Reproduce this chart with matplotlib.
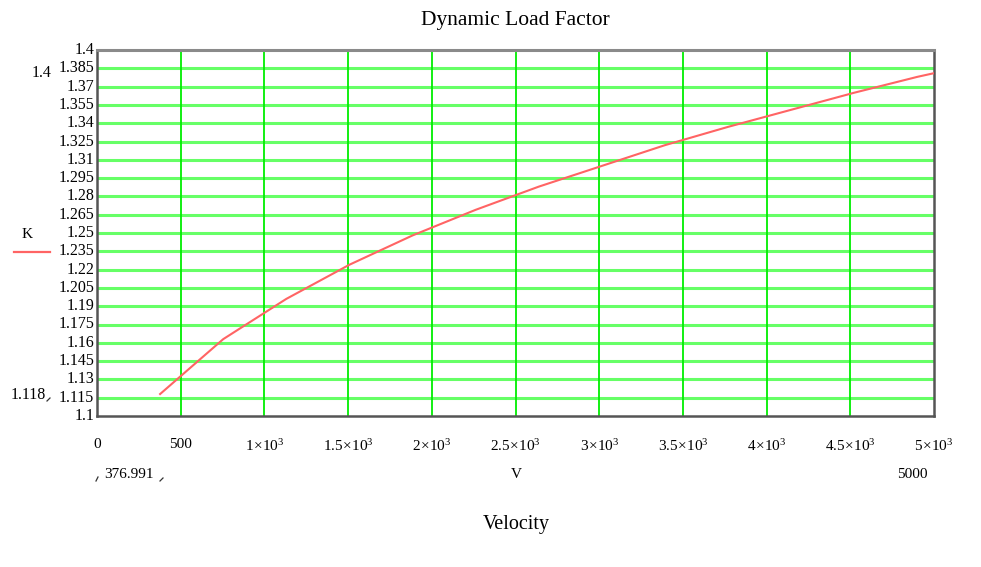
import numpy as np
import matplotlib
matplotlib.use("Agg")
import matplotlib.pyplot as plt
from matplotlib.lines import Line2D

plt.rcParams['font.family'] = ['Liberation Serif', 'DejaVu Serif']
plt.rcParams['mathtext.fontset'] = 'custom'
plt.rcParams['mathtext.rm'] = 'Liberation Serif'
plt.rcParams['mathtext.it'] = 'Liberation Serif'

# velocity samples and dynamic load factor
velocity = [376.991, 753.982, 1130.973, 1507.964, 1884.955, 2261.946, 2638.937,
            3015.928, 3392.919, 3769.910, 4146.901, 4523.892, 4900.883, 5000.0]
k_factor = [1.118, 1.163, 1.196, 1.224, 1.248, 1.269, 1.288,
            1.305, 1.322, 1.337, 1.351, 1.365, 1.378, 1.381]

x_ticks = [0, 500, 1000, 1500, 2000, 2500, 3000, 3500, 4000, 4500, 5000]
x_tick_labels = ['0', '500', r'$1\!\times\!10^3$', r'$1.5\!\times\!10^3$', r'$2\!\times\!10^3$',
                 r'$2.5\!\times\!10^3$', r'$3\!\times\!10^3$', r'$3.5\!\times\!10^3$',
                 r'$4\!\times\!10^3$', r'$4.5\!\times\!10^3$', r'$5\!\times\!10^3$']
y_ticks = [1.1, 1.115, 1.13, 1.145, 1.16, 1.175, 1.19, 1.205, 1.22, 1.235, 1.25,
           1.265, 1.28, 1.295, 1.31, 1.325, 1.34, 1.355, 1.37, 1.385, 1.4]

W, H = 981, 567
fig = plt.figure(figsize=(W / 100, H / 100), dpi=100)
ax = fig.add_axes([97 / W, 1 - 416 / H, (934 - 97) / W, (416 - 50) / H])

ax.set_xlim(0, 5000)
ax.set_ylim(1.1, 1.4)

# grid lines
for y in y_ticks[1:-1]:
    ax.axhline(y, color='#66ff66', lw=2.2, zorder=1)
for x in x_ticks[1:-1]:
    ax.axvline(x, color='#00ee00', lw=1.3, zorder=1)

ax.plot(velocity, k_factor, color='#ff6464', lw=1.5, zorder=3)

ax.set_xticks(x_ticks)
ax.set_xticklabels(x_tick_labels, fontsize=11)
ax.set_yticks(y_ticks)
ax.set_yticklabels(['{:g}'.format(v) for v in y_ticks], fontsize=11.5)
ax.tick_params(axis='x', length=0, pad=16)
ax.tick_params(axis='y', length=0, pad=2)
for lbl in ax.get_yticklabels():
    lbl.set_verticalalignment('center')

for side in ['left', 'bottom', 'right']:
    ax.spines[side].set_color('#555555')
    ax.spines[side].set_linewidth(1.8)
ax.spines['top'].set_color('#8a8a8a')
ax.spines['top'].set_linewidth(2.2)

def px(x, y):
    return x / W, 1 - y / H

# titles and labels
fig.text(*px(515, 20), 'Dynamic Load Factor', ha='center', va='center', fontsize=15.5)
fig.text(*px(516, 524), 'Velocity', ha='center', va='center', fontsize=14.5)
fig.text(*px(516, 474), 'V', ha='center', va='center', fontsize=11)
fig.text(*px(912, 474), '5000', ha='center', va='center', fontsize=11)
fig.text(*px(129, 474), '376.991', ha='center', va='center', fontsize=11)
fig.text(*px(42, 73), '1.4', ha='center', va='center', fontsize=11.5)
fig.text(*px(28, 395), '1.118', ha='center', va='center', fontsize=11.5)
fig.text(*px(27, 234), 'K', ha='center', va='center', fontsize=11)

# legend line under the K label
fig.add_artist(Line2D([14 / W, 50 / W], [1 - 252 / H, 1 - 252 / H], color='#ff6464', lw=1.6))

# small limit markers
marks = [[(98, 477), (96, 481)], [(160, 481), (163, 478)], [(47, 401), (50, 398)]]
for (x0, y0), (x1, y1) in marks:
    fig.add_artist(Line2D([x0 / W, x1 / W], [1 - y0 / H, 1 - y1 / H], color='#333333', lw=0.9))

fig.savefig('out.png', dpi=100)
